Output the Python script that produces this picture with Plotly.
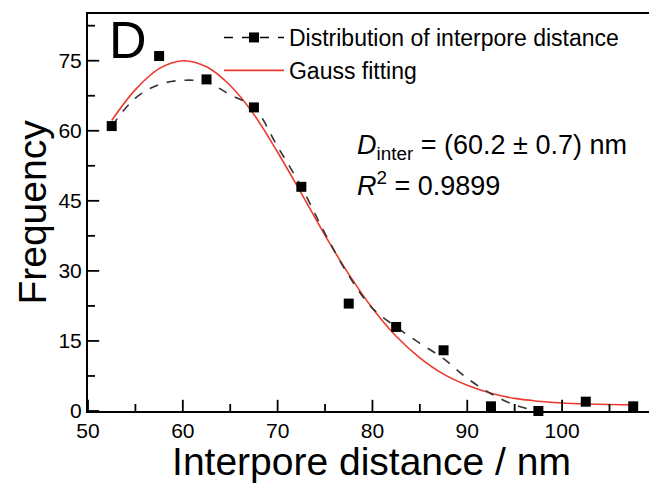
import plotly.graph_objects as go

# Measured distribution (bin centres, frequency)
dist_x = [52.5, 57.5, 62.5, 67.5, 72.5, 77.5, 82.5, 87.5, 92.5, 97.5, 102.5, 107.5]
dist_y = [61, 76, 71, 65, 48, 23, 18, 13, 1, 0, 2, 1]

# Dashed smoothed guide curve
guide_x = [52.5, 55, 57.5, 60, 62.5, 65, 67.5, 70, 72.5, 75, 77.5, 80, 82.5, 85, 87.5, 90, 92.5, 95, 97.5]
guide_y = [61, 67.0, 69.9, 70.8, 70.4, 67.7, 65, 56.6, 48, 38, 29, 22, 18, 14.5, 11.2, 7.0, 3.7, 1.3, 0]

# Gauss fitting curve
fit_x = [52.5, 55, 57.5, 60, 62.5, 65, 67.5, 70, 72.5, 75, 77.5, 80, 82.5, 85, 87.5, 90, 92.5, 95, 97.5, 100, 102.5, 105, 107.5]
fit_y = [62.2, 68.8, 73.3, 75.0, 73.7, 69.7, 63.5, 55.4, 46.6, 37.6, 29.3, 22.0, 16.0, 11.4, 7.9, 5.5, 3.8, 2.7, 2.1, 1.7, 1.5, 1.4, 1.3]

x_ticks = [50, 60, 70, 80, 90, 100]
x_minor = [55, 65, 75, 85, 95, 105]
y_ticks = [0, 15, 30, 45, 60, 75]
y_minor = [7.5, 22.5, 37.5, 52.5, 67.5, 82.5]

X_MIN, X_MAX = 50, 109.8
Y_MIN, Y_MAX = 0, 85

FONT = "Liberation Sans, Arial, sans-serif"
RED = "#ec3b2e"

fig = go.Figure()

# legend-only entry for the distribution
fig.add_trace(go.Scatter(
    x=[None], y=[None], mode="lines+markers",
    name="Distribution of interpore distance",
    line=dict(color="black", width=1.5, dash="dash"),
    marker=dict(symbol="square", size=10, color="black"),
))
fig.add_trace(go.Scatter(
    x=fit_x, y=fit_y, mode="lines", name="Gauss fitting",
    line=dict(color=RED, width=1.6, shape="spline"),
))
fig.add_trace(go.Scatter(
    x=guide_x, y=guide_y, mode="lines", showlegend=False,
    line=dict(color="#333333", width=1.6, dash="dash", shape="spline"),
))
fig.add_trace(go.Scatter(
    x=dist_x, y=dist_y, mode="markers", showlegend=False,
    marker=dict(symbol="square", size=10, color="black"),
    cliponaxis=False,
))

# inward tick marks: half of each centred line marker is clipped by the plot area
def tick_trace(xs, ys, symbol, size):
    return go.Scatter(
        x=xs, y=ys, mode="markers", showlegend=False, hoverinfo="skip",
        cliponaxis=True,
        marker=dict(symbol=symbol, size=size, color="black",
                    line=dict(color="black", width=1.8)),
    )

fig.add_trace(tick_trace(x_ticks, [Y_MIN] * len(x_ticks), "line-ns", 16))
fig.add_trace(tick_trace(x_minor, [Y_MIN] * len(x_minor), "line-ns", 10))
fig.add_trace(tick_trace([X_MIN] * len(y_ticks), y_ticks, "line-ew", 16))
fig.add_trace(tick_trace([X_MIN] * len(y_minor), y_minor, "line-ew", 10))

# page body has an 8px default margin, so the figure is 8px smaller
fig.update_layout(
    template="simple_white",
    width=649, height=475,
    margin=dict(l=80, r=2, t=6, b=72, autoexpand=False),
    paper_bgcolor="white", plot_bgcolor="white",
    font=dict(family=FONT, color="black"),
    showlegend=True,
    legend=dict(
        x=0.231, y=0.995, xanchor="left", yanchor="top",
        bgcolor="rgba(0,0,0,0)", font=dict(size=23, family=FONT),
        itemwidth=60, tracegroupgap=0,
    ),
)

fig.update_xaxes(
    range=[X_MIN, X_MAX], tickmode="array", tickvals=x_ticks, ticktext=[str(v) for v in x_ticks],
    ticks="", showline=True, linecolor="black", linewidth=2, mirror=True,
    showgrid=False, zeroline=False, automargin=False,
    tickfont=dict(size=21, family=FONT),
    title=dict(text="Interpore distance / nm", font=dict(size=39, family=FONT), standoff=0),
)
fig.update_yaxes(
    range=[Y_MIN, Y_MAX], tickmode="array", tickvals=y_ticks, ticktext=[str(v) for v in y_ticks],
    ticks="", showline=True, linecolor="black", linewidth=2,
    showgrid=False, zeroline=False, automargin=False,
    tickfont=dict(size=21, family=FONT),
    title=dict(text="Frequency", font=dict(size=39, family=FONT), standoff=0),
)

# right frame line (grey)
fig.add_shape(type="line", xref="paper", yref="paper", x0=1, x1=1, y0=0, y1=1,
              line=dict(color="#9a9a9a", width=1.2))

# panel label
fig.add_annotation(text="D", xref="paper", yref="paper", x=0.071, y=0.935,
                   xanchor="center", yanchor="middle", showarrow=False,
                   font=dict(size=52, family=FONT))

fig.add_annotation(text="<i>D</i><sub>inter</sub> = (60.2 ± 0.7) nm", xref="paper", yref="paper",
                   x=0.471, y=0.665, xanchor="left", yanchor="middle", showarrow=False,
                   font=dict(size=27, family=FONT))
fig.add_annotation(text="<i>R</i><sup>2</sup> = 0.9899", xref="paper", yref="paper",
                   x=0.471, y=0.573, xanchor="left", yanchor="middle", showarrow=False,
                   font=dict(size=27, family=FONT))

fig.write_html("out.html")
